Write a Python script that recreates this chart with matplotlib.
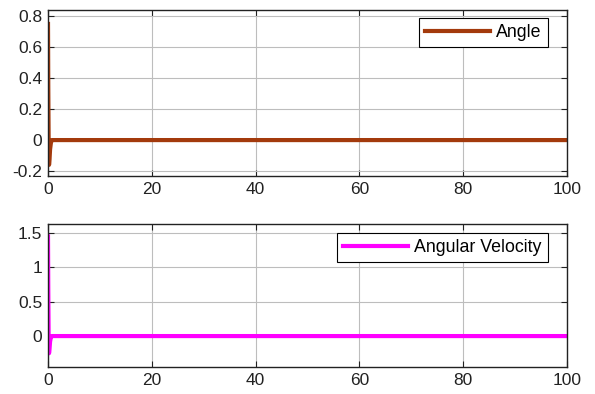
import matplotlib
matplotlib.use("Agg")
import matplotlib.pyplot as plt

plt.rcParams['font.family'] = ['Liberation Sans', 'DejaVu Sans']

t = [0, 0.05, 0.12, 0.2, 0.3, 0.4, 0.55, 0.7, 1.0, 2, 5, 10, 20, 50, 100]
angle = [0.75, 0.35, 0.0, -0.16, -0.12, -0.06, -0.02, 0.0, 0.0, 0.0, 0.0, 0.0, 0.0, 0.0, 0.0]
angvel = [1.45, 0.7, 0.0, -0.25, -0.18, -0.08, -0.02, 0.0, 0.0, 0.0, 0.0, 0.0, 0.0, 0.0, 0.0]

xticks = [0, 20, 40, 60, 80, 100]
yticks1 = [-0.2, 0, 0.2, 0.4, 0.6, 0.8]
yticks2 = [0, 0.5, 1, 1.5]

W, H = 595, 394
fig = plt.figure(figsize=(W / 100, H / 100), dpi=100)
ax1 = fig.add_axes([48 / W, 1 - 176 / H, 519 / W, 166 / H])
ax2 = fig.add_axes([48 / W, 1 - 367 / H, 519 / W, 143 / H])

specs = [
    (ax1, angle, '#A33A0C', 'Angle', (-0.232, 0.84), yticks1,
     ['-0.2', '0', '0.2', '0.4', '0.6', '0.8'], 18),
    (ax2, angvel, '#FF00FF', 'Angular Velocity', (-0.45, 1.63), yticks2,
     ['0', '0.5', '1', '1.5'], 233),
]
for ax, y, c, lab, yl, yt, ytl, legtop in specs:
    ax.plot(t, y, color=c, lw=3, label=lab)
    ax.set_xlim(0, 100)
    ax.set_ylim(*yl)
    ax.set_xticks(xticks)
    ax.set_yticks(yt)
    ax.set_yticklabels(ytl)
    ax.grid(True, color='#bdbdbd', lw=0.8)
    ax.tick_params(direction='in', labelsize=12.5, length=4, colors='#222222',
                   top=True, right=True, pad=4)
    for s in ax.spines.values():
        s.set_linewidth(1.0)
        s.set_color('#222222')
    leg = ax.legend(loc='upper right', fontsize=12.8, frameon=True, fancybox=False,
                    edgecolor='black', framealpha=1, handlelength=3.65,
                    bbox_to_anchor=(548 / W, 1 - legtop / H),
                    bbox_transform=fig.transFigure,
                    borderaxespad=0, borderpad=0.35, handletextpad=0.35)
    leg.get_frame().set_linewidth(0.8)

fig.savefig('out.png', dpi=100)
